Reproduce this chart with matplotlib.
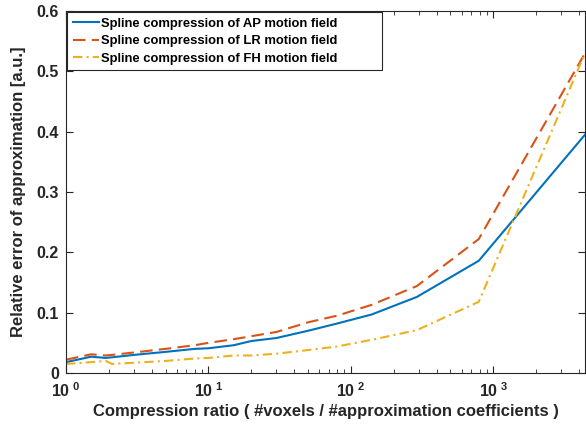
import numpy as np
import matplotlib.pyplot as plt
from matplotlib.patches import Rectangle
from matplotlib.ticker import FuncFormatter, LogLocator, MultipleLocator

plt.rcParams['font.family'] = ['Liberation Sans', 'DejaVu Sans']
plt.rcParams['font.weight'] = 'bold'
plt.rcParams['mathtext.fontset'] = 'custom'
plt.rcParams['mathtext.rm'] = 'Liberation Sans:bold'
plt.rcParams['mathtext.bf'] = 'Liberation Sans:bold'

# compression ratio (x) and relative errors
ratio = [1, 1.5, 1.9, 2.1, 3, 5, 8, 10, 15, 20, 30, 50, 80, 140, 290, 790, 4400]
err_ap = [0.018, 0.027, 0.025, 0.026, 0.030, 0.035, 0.040, 0.041, 0.046, 0.053,
          0.058, 0.070, 0.082, 0.097, 0.126, 0.186, 0.395]
err_lr = [0.022, 0.031, 0.029, 0.030, 0.034, 0.040, 0.046, 0.050, 0.056, 0.061,
          0.068, 0.084, 0.095, 0.113, 0.144, 0.222, 0.530]
err_fh = [0.015, 0.018, 0.020, 0.015, 0.017, 0.020, 0.024, 0.025, 0.029, 0.029,
          0.032, 0.038, 0.044, 0.055, 0.071, 0.118, 0.530]

labels = ['Spline compression of AP motion field',
          'Spline compression of LR motion field',
          'Spline compression of FH motion field']
colors = [(0, 0.447, 0.741), (0.85, 0.325, 0.098), (0.929, 0.694, 0.125)]
dashes = [None, (6, 3), (4.5, 2, 1, 2)]

fig = plt.figure(figsize=(5.86, 4.25), dpi=100)
ax = fig.add_axes([66/586, 1-373/425, 519/586, 362/425])

for y, lab, c, d in zip([err_ap, err_lr, err_fh], labels, colors, dashes):
    line, = ax.plot(ratio, y, color=c, lw=1.5, label=lab)
    if d is not None:
        line.set_dashes(d)

ax.set_xscale('log')
ax.set_xlim(ratio[0], ratio[-1])
ax.set_ylim(0, 0.6)
ax.yaxis.set_major_locator(MultipleLocator(0.1))
ax.yaxis.set_major_formatter(FuncFormatter(lambda v, p: '0' if abs(v) < 1e-9 else f'{v:g}'))
ax.xaxis.set_major_locator(LogLocator(base=10))
ax.xaxis.set_minor_locator(LogLocator(base=10, subs=np.arange(2, 10)))
ax.xaxis.set_major_formatter(FuncFormatter(lambda v, p: r'$\mathbf{10^{\ %d}}$' % round(np.log10(v))))

edge = (0.15, 0.15, 0.15)
for s in ax.spines.values():
    s.set_color(edge)
    s.set_linewidth(0.8)
ax.tick_params(which='both', direction='in', top=True, right=True, colors=edge,
               labelcolor=edge, labelsize=11.5)
ax.tick_params(which='major', length=5)
ax.tick_params(which='minor', length=3)
ax.tick_params(axis='x', pad=6)
ax.tick_params(axis='y', pad=5)

ax.set_xlabel('Compression ratio ( #voxels / #approximation coefficients )',
              fontsize=12, fontweight='bold', color=edge, labelpad=3)
ax.set_ylabel('Relative error of approximation [a.u.]',
              fontsize=12, fontweight='bold', color=edge, labelpad=8)

leg = ax.legend(loc='upper left', fontsize=9.4, frameon=False,
                borderaxespad=0.0, handlelength=2.0, handletextpad=0.15,
                labelspacing=0.42, borderpad=0.5)
for t in leg.get_texts():
    t.set_fontweight('bold')
# MATLAB-style legend box, wider than its text
ax.add_patch(Rectangle((1/519, 1-59/362), 315/519, 58/362, transform=ax.transAxes,
                       facecolor='white', edgecolor=edge, lw=0.8, zorder=4))
leg.set_zorder(5)

fig.savefig('out.png', dpi=100)
